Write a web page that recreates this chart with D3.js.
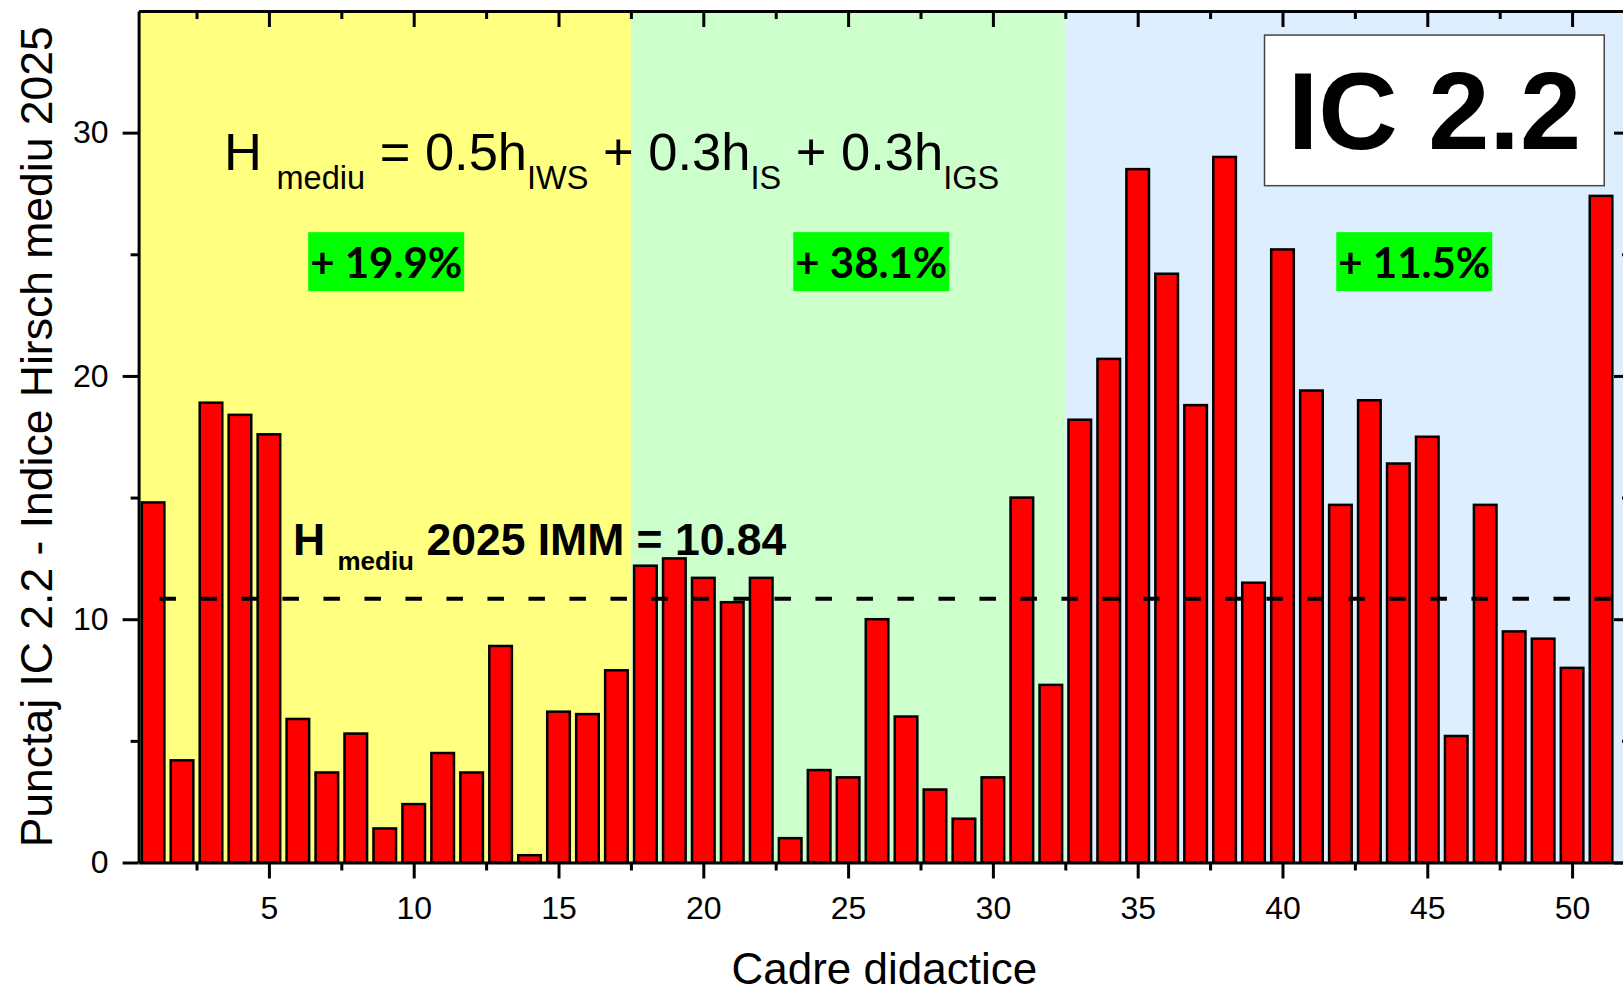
<!DOCTYPE html>
<html>
<head>
<meta charset="utf-8">
<script src="https://cdn.jsdelivr.net/npm/d3@7"></script>
<style>
  body { margin: 0; background: #fff; overflow: hidden; }
  text { font-family: "Liberation Sans", Arial, sans-serif; }
</style>
</head>
<body>
<svg id="chart"></svg>
<script>
// data
const cadre = [1, 2, 3, 4, 5, 6, 7, 8, 9, 10, 11, 12, 13, 14, 15, 16, 17, 18, 19, 20,
  21, 22, 23, 24, 25, 26, 27, 28, 29, 30, 31, 32, 33, 34, 35, 36, 37, 38, 39, 40,
  41, 42, 43, 44, 45, 46, 47, 48, 49, 50, 51]
const punctaj = [14.8, 4.2, 18.9, 18.4, 17.6, 5.9, 3.7, 5.3, 1.4, 2.4, 4.5, 3.7, 8.9, 0.3, 6.2, 6.1, 7.9,
  12.2, 12.5, 11.7, 10.7, 11.7, 1.0, 3.8, 3.5, 10.0, 6.0, 3.0, 1.8, 3.5, 15.0, 7.3,
  18.2, 20.7, 28.5, 24.2, 18.8, 29.0, 11.5, 25.2, 19.4, 14.7, 19.0, 16.4, 17.5, 5.2, 14.7, 9.5, 9.2, 8.0, 27.4]
const hMediu = 10.84

// the three shaded groups
const groupStart = [0.5, 17.5, 32.5]
const groupEnd = [17.5, 32.5, 52]
const groupGain = ["+ 19.9%", "+ 38.1%", "+ 11.5%"]
const gainCenter = [9.05, 25.8, 44.55]

const xTicks = [5, 10, 15, 20, 25, 30, 35, 40, 45, 50]
const xMinor = [2.5, 7.5, 12.5, 17.5, 22.5, 27.5, 32.5, 37.5, 42.5, 47.5]
const yTicks = [0, 10, 20, 30]
const yMinor = [5, 15, 25]

const width = 1623, height = 992
const groupColors = ["#ffff80", "#ccffcc", "#ddeeff"]

const svg = d3.select("#chart")
    .attr("width", width)
    .attr("height", height)

// plot area, right axis falls just outside the picture
let x = d3.scaleLinear().domain([0.5, 52]).range([138.6, 1630])
let y = d3.scaleLinear().domain([0, 35]).range([862.5, 11])

// background bands
svg.selectAll(".band")
    .data(groupStart)
    .enter()
    .append("rect")
    .attr("x", (d) => x(d))
    .attr("y", y(35))
    .attr("width", (d, i) => x(groupEnd[i]) - x(d))
    .attr("height", y(0) - y(35))
    .attr("fill", (d, i) => groupColors[i])

// bars
let step = x(2) - x(1)
let bw = step * 0.78
svg.selectAll(".bar")
    .data(cadre)
    .enter()
    .append("rect")
    .attr("x", (d) => x(d) - bw / 2)
    .attr("y", (d, i) => y(punctaj[i]))
    .attr("width", bw)
    .attr("height", (d, i) => y(0) - y(punctaj[i]))
    .attr("fill", "#ff0000")
    .attr("stroke", "#000")
    .attr("stroke-width", 2.5)

// average line
svg.append("line")
    .attr("x1", x(1.22))
    .attr("x2", x(52))
    .attr("y1", y(hMediu))
    .attr("y2", y(hMediu))
    .attr("stroke", "#000")
    .attr("stroke-width", 4)
    .attr("stroke-dasharray", "16.5,24.5")

// formula
let f = svg.append("text")
    .attr("x", x(3.45))
    .attr("y", y(28.45))
    .style("font-size", "52.5px")
f.append("tspan").text("H ")
f.append("tspan").attr("dy", 19).style("font-size", "32.5px").text("mediu")
f.append("tspan").attr("dy", -19).text(" = 0.5h")
f.append("tspan").attr("dy", 19).style("font-size", "32.5px").text("IWS")
f.append("tspan").attr("dy", -19).text(" + 0.3h")
f.append("tspan").attr("dy", 19).style("font-size", "32.5px").text("IS")
f.append("tspan").attr("dy", -19).text(" + 0.3h")
f.append("tspan").attr("dy", 19).style("font-size", "32.5px").text("IGS")

// average label
let m = svg.append("text")
    .attr("x", x(5.83))
    .attr("y", y(12.64))
    .style("font-size", "44.5px")
    .style("font-weight", "bold")
m.append("tspan").text("H ")
m.append("tspan").attr("dy", 15).style("font-size", "26px").text("mediu")
m.append("tspan").attr("dy", -15).text(" 2025 IMM = " + hMediu)

// green percentage boxes
let boxW = 156, boxH = 59
svg.selectAll(".gainbox")
    .data(gainCenter)
    .enter()
    .append("rect")
    .attr("x", (d) => x(d) - boxW / 2)
    .attr("y", y(25.91))
    .attr("width", boxW)
    .attr("height", boxH)
    .attr("fill", "#00ff00")

svg.selectAll(".gaintext")
    .data(gainCenter)
    .enter()
    .append("text")
    .attr("x", (d) => x(d))
    .attr("y", y(25.91) + boxH - 13)
    .attr("text-anchor", "middle")
    .style("font-family", "Lato, 'Open Sans', sans-serif")
    .style("font-weight", "bold")
    .style("font-size", "42px")
    .text((d, i) => groupGain[i])

// IC 2.2 label box
svg.append("rect")
    .attr("x", x(39.38))
    .attr("y", y(34.01))
    .attr("width", x(51.11) - x(39.38))
    .attr("height", y(27.82) - y(34.01))
    .attr("fill", "#fff")
    .attr("stroke", "#444")
    .attr("stroke-width", 1.5)

svg.append("text")
    .attr("x", (x(39.38) + x(51.11)) / 2)
    .attr("y", y(29.31))
    .attr("text-anchor", "middle")
    .style("font-size", "110px")
    .style("font-weight", "bold")
    .text("IC 2.2")

// axes
function styleAxis(g) {
    g.selectAll("path").attr("stroke-width", 3)
    g.selectAll("line").attr("stroke-width", 3)
    g.selectAll("text").style("font-size", "32px").style("font-family", "'Liberation Sans', Arial, sans-serif")
}

svg.append("g")
    .attr("transform", "translate(0," + y(0) + ")")
    .call(d3.axisBottom(x).tickValues(xTicks).tickSize(16).tickSizeOuter(0).tickPadding(18))
    .call(styleAxis)
svg.append("g")
    .attr("transform", "translate(0," + y(0) + ")")
    .call(d3.axisBottom(x).tickValues(xMinor).tickSize(8).tickFormat(""))
    .call(styleAxis)
    .select(".domain").remove()

svg.append("g")
    .attr("transform", "translate(0," + y(35) + ")")
    .call(d3.axisTop(x).tickValues(xTicks).tickSize(-16).tickSizeOuter(0).tickFormat(""))
    .call(styleAxis)
svg.append("g")
    .attr("transform", "translate(0," + y(35) + ")")
    .call(d3.axisTop(x).tickValues(xMinor).tickSize(-8).tickFormat(""))
    .call(styleAxis)
    .select(".domain").remove()

svg.append("g")
    .attr("transform", "translate(" + x(0.5) + ",0)")
    .call(d3.axisLeft(y).tickValues(yTicks).tickSize(16).tickSizeOuter(0).tickPadding(14))
    .call(styleAxis)
svg.append("g")
    .attr("transform", "translate(" + x(0.5) + ",0)")
    .call(d3.axisLeft(y).tickValues(yMinor).tickSize(8).tickFormat(""))
    .call(styleAxis)
    .select(".domain").remove()

svg.append("g")
    .attr("transform", "translate(" + x(52) + ",0)")
    .call(d3.axisRight(y).tickValues(yTicks).tickSize(-16).tickSizeOuter(0).tickFormat(""))
    .call(styleAxis)
svg.append("g")
    .attr("transform", "translate(" + x(52) + ",0)")
    .call(d3.axisRight(y).tickValues(yMinor).tickSize(-8).tickFormat(""))
    .call(styleAxis)
    .select(".domain").remove()

// axis titles
svg.append("text")
    .attr("x", (x(0.5) + x(52)) / 2)
    .attr("y", 984)
    .attr("text-anchor", "middle")
    .style("font-size", "44px")
    .text("Cadre didactice")

svg.append("text")
    .attr("transform", "translate(52," + y(17.5) + ") rotate(-90)")
    .attr("text-anchor", "middle")
    .style("font-size", "44.5px")
    .text("Punctaj IC 2.2 - Indice Hirsch mediu 2025")
</script>
</body>
</html>
